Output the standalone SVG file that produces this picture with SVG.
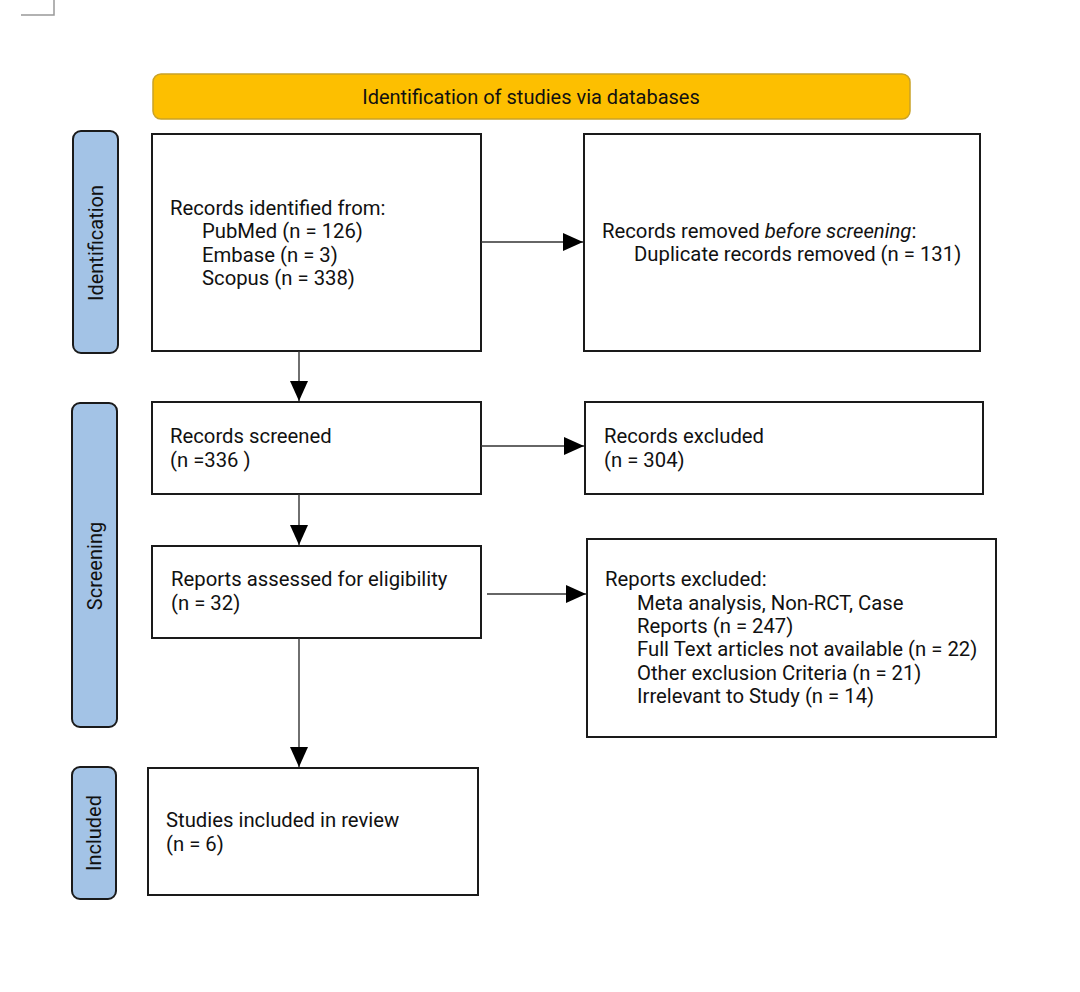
<svg xmlns="http://www.w3.org/2000/svg" width="1080" height="992" viewBox="0 0 1080 992">
<defs>
<marker id="ah" markerWidth="20" markerHeight="18" refX="20" refY="9" orient="auto" markerUnits="userSpaceOnUse">
<path d="M0,0 L20,9 L0,18 Z" fill="#000"/>
</marker>
<style>
text{font-family:Roboto,"Liberation Sans",sans-serif;fill:#111;}
.t{font-size:20.3px;}
.box{fill:#fff;stroke:#1a1a1a;stroke-width:2;}
.side{fill:#a3c3e6;stroke:#1a1a1a;stroke-width:2;}
.sl{font-size:20px;text-anchor:middle;}
.con{stroke:#333;stroke-width:1.4;fill:none;marker-end:url(#ah);}
</style>
</defs>
<rect width="1080" height="992" fill="#fff"/>
<path d="M54,0 V15 H21" fill="none" stroke="#999" stroke-width="1.5"/>

<g id="header">
<rect x="153" y="74" width="757" height="45" rx="8" fill="#fdbf00" stroke="#c9a227" stroke-width="1.5"/>
<text x="531" y="104" font-size="20" text-anchor="middle">Identification of studies via databases</text>
</g>

<g id="side-identification">
<rect class="side" x="73" y="131" width="45" height="222" rx="8"/>
<text class="sl" transform="translate(103,243) rotate(-90)">Identification</text>
</g>
<g id="side-screening">
<rect class="side" x="72" y="403" width="45" height="324" rx="8"/>
<text class="sl" transform="translate(102,566) rotate(-90)">Screening</text>
</g>
<g id="side-included">
<rect class="side" x="72" y="767" width="44" height="132" rx="8"/>
<text class="sl" transform="translate(101,833) rotate(-90)">Included</text>
</g>

<g id="records-identified">
<rect class="box" x="152" y="134" width="329" height="217"/>
<text class="t" x="170" y="215">Records identified from:</text>
<text class="t" x="202" y="238">PubMed (n = 126)</text>
<text class="t" x="202" y="262">Embase (n = 3)</text>
<text class="t" x="202" y="285">Scopus (n = 338)</text>
</g>

<g id="records-removed">
<rect class="box" x="584" y="134" width="396" height="217"/>
<text class="t" x="602" y="238">Records removed <tspan font-style="italic">before screening</tspan>:</text>
<text class="t" x="634" y="261">Duplicate records removed (n = 131)</text>
</g>

<g id="records-screened">
<rect class="box" x="152" y="402" width="329" height="92"/>
<text class="t" x="170" y="443">Records screened</text>
<text class="t" x="170" y="467">(n =336 )</text>
</g>

<g id="records-excluded">
<rect class="box" x="585" y="402" width="398" height="92"/>
<text class="t" x="604" y="443">Records excluded</text>
<text class="t" x="604" y="467">(n = 304)</text>
</g>

<g id="reports-assessed">
<rect class="box" x="152" y="546" width="329" height="92"/>
<text class="t" x="171" y="586">Reports assessed for eligibility</text>
<text class="t" x="171" y="610">(n = 32)</text>
</g>

<g id="reports-excluded">
<rect class="box" x="587" y="539" width="409" height="198"/>
<text class="t" x="605" y="586">Reports excluded:</text>
<text class="t" x="637" y="610">Meta analysis, Non-RCT, Case</text>
<text class="t" x="637" y="633">Reports (n = 247)</text>
<text class="t" x="637" y="656">Full Text articles not available (n = 22)</text>
<text class="t" x="637" y="680">Other exclusion Criteria (n = 21)</text>
<text class="t" x="637" y="703">Irrelevant to Study (n = 14)</text>
</g>

<g id="studies-included">
<rect class="box" x="148" y="768" width="330" height="127"/>
<text class="t" x="166" y="827">Studies included in review</text>
<text class="t" x="166" y="851">(n = 6)</text>
</g>

<g id="connectors">
<line class="con" x1="481" y1="242" x2="583" y2="242"/>
<line class="con" x1="481" y1="446" x2="584" y2="446"/>
<line class="con" x1="487" y1="594" x2="586" y2="594"/>
<line class="con" x1="299" y1="351" x2="299" y2="401"/>
<line class="con" x1="299" y1="494" x2="299" y2="545"/>
<line class="con" x1="299" y1="638" x2="299" y2="767"/>
</g>
</svg>
